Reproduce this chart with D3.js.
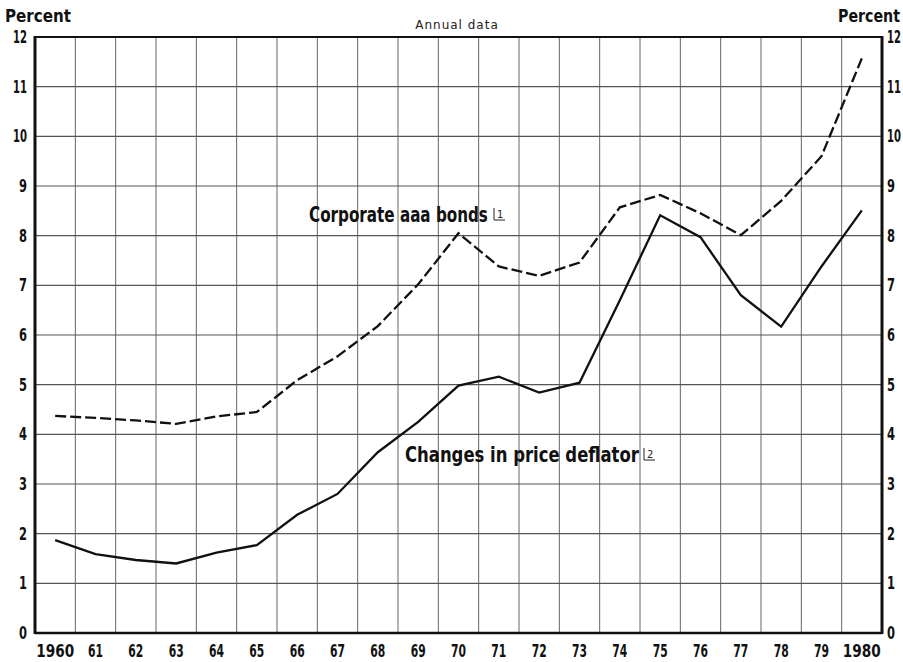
<!DOCTYPE html>
<html><head><meta charset="utf-8">
<script src="https://cdn.jsdelivr.net/npm/d3@7.9.0/dist/d3.min.js"></script>
<style>
body{margin:0;background:#fff}
svg{display:block}
.lbl{font-family:"DejaVu Sans",sans-serif;font-weight:bold;fill:#111}
</style></head><body>
<svg width="903" height="662"></svg>
<script>
// annual data, 1960-1980
const years=d3.range(1960,1981);
const yearLabels=years.map((y,i)=>i===0||i===years.length-1?String(y):String(y).slice(2));
const corporateAaa=[4.37,4.33,4.28,4.21,4.36,4.45,5.09,5.57,6.18,7.02,8.05,7.38,7.19,7.46,8.57,8.82,8.45,8.01,8.70,9.60,11.57];
const priceDeflator=[1.87,1.59,1.47,1.40,1.62,1.77,2.38,2.80,3.64,4.25,4.98,5.16,4.84,5.04,6.70,8.41,7.97,6.80,6.17,7.38,8.51];
const yTicks=d3.range(0,13);

const svg=d3.select('svg');
const L=35,R=882,T=37,B=633;
const x=d3.scaleBand().domain(years).range([L,R]).padding(0);
const y=d3.scaleLinear().domain([0,12]).range([B,T]);
const cx=d=>x(d)+x.bandwidth()/2;

// grid
const g=svg.append('g');
g.selectAll('line.v').data(years.slice(1)).enter().append('line')
.attr('x1',d=>x(d)).attr('x2',d=>x(d)).attr('y1',T).attr('y2',B)
.attr('stroke','#666').attr('stroke-width',1);
g.selectAll('line.h').data(yTicks.slice(1,-1)).enter().append('line')
.attr('x1',L).attr('x2',R).attr('y1',d=>y(d)).attr('y2',d=>y(d))
.attr('stroke','#555').attr('stroke-width',1.1);

// frame
svg.append('line').attr('x1',L).attr('x2',R).attr('y1',T).attr('y2',T).attr('stroke','#111').attr('stroke-width',2);
svg.append('line').attr('x1',L).attr('x2',R).attr('y1',B).attr('y2',B).attr('stroke','#111').attr('stroke-width',2.5);
svg.append('line').attr('x1',L).attr('x2',L).attr('y1',T-1).attr('y2',B+1).attr('stroke','#111').attr('stroke-width',3);
svg.append('line').attr('x1',R).attr('x2',R).attr('y1',T-1).attr('y2',B+1).attr('stroke','#111').attr('stroke-width',3);

// condensed bold text: squeeze horizontally to width w
function txt(xp,yp,s,size,w,anchor){
  const t=svg.append('text').attr('class','lbl').attr('font-size',size).text(s);
  const nat=t.node().getComputedTextLength(),k=w/nat;
  const x0=anchor==='middle'?xp-w/2:anchor==='end'?xp-w:xp;
  t.attr('transform',`translate(${x0},${yp}) scale(${k},1)`);
  return t;
}

// axes labels
years.forEach((d,i)=>{const s=yearLabels[i];txt(cx(d),657,s,17,s.length===4?38:15,'middle');});
yTicks.forEach(d=>{const s=String(d),w=s.length===2?14:8;
  txt(27,y(d)+6,s,17,w,'end');txt(887,y(d)+6,s,17,w,'start');});
txt(5,22,'Percent',17,66);
txt(900,22,'Percent',17,62,'end');
svg.append('text').attr('x',457).attr('y',29).attr('text-anchor','middle')
.attr('font-family','DejaVu Sans, sans-serif').attr('font-size',12).attr('letter-spacing',1)
.attr('fill','#222').text('Annual data');

// lines
const line=d3.line().x((d,i)=>cx(years[i])).y(d=>y(d));
svg.append('path').datum(corporateAaa).attr('d',line).attr('fill','none')
.attr('stroke','#111').attr('stroke-width',2.3).attr('stroke-dasharray','11,4');
svg.append('path').datum(priceDeflator).attr('d',line).attr('fill','none')
.attr('stroke','#111').attr('stroke-width',2.3);

// series labels with footnote marks
function note(xp,yp,n){
  svg.append('path').attr('d',`M${xp},${yp-12}V${yp}H${xp+11}`).attr('fill','none').attr('stroke','#222').attr('stroke-width',1);
  svg.append('text').attr('x',xp+3).attr('y',yp-2).attr('font-family','DejaVu Sans, sans-serif')
  .attr('font-size',10).attr('fill','#222').text(n);
}
txt(309,222,'Corporate aaa bonds',22,179);
note(494,220,'1');
txt(405,462,'Changes in price deflator',22,234);
note(644,460,'2');
</script></body></html>
